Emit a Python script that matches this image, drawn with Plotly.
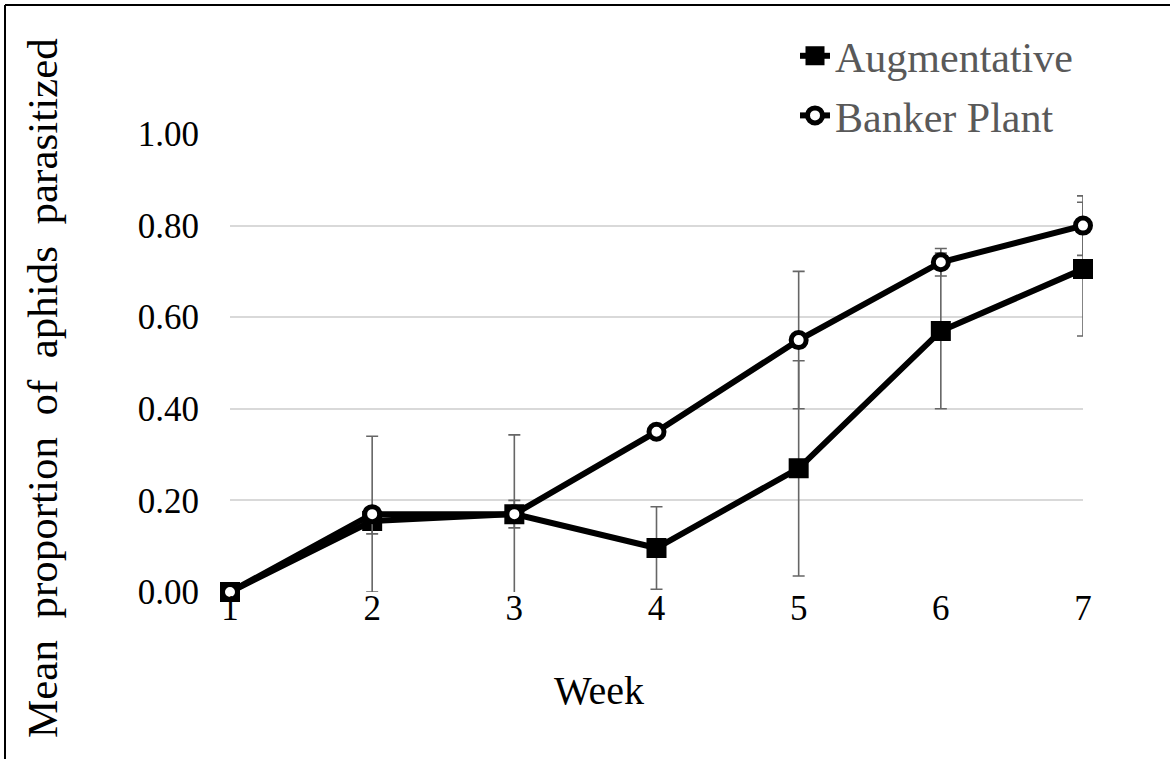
import plotly.graph_objects as go

# Weekly parasitism data
weeks = [1, 2, 3, 4, 5, 6, 7]
augmentative_mean = [0.0, 0.155, 0.17, 0.096, 0.27, 0.57, 0.705]
augmentative_err = [0.0, 0.028, 0.03, 0.09, 0.235, 0.17, 0.146]
banker_mean = [0.0, 0.17, 0.17, 0.35, 0.55, 0.72, 0.80]
banker_err = [0.0, 0.17, 0.173, 0.01, 0.15, 0.03, 0.065]
y_ticks = [0.0, 0.2, 0.4, 0.6, 0.8, 1.0]

FONT = "Liberation Serif, Times New Roman, serif"
ERR_COLOR = "#666666"

# plot-area geometry in pixels
W, H = 1172, 759
L, R, T, B = 230, 89, 134, 167
PW, PH = W - L - R, H - T - B


def px_x(p):
    return (p - L) / PW


def px_y(p):
    return (H - B - p) / PH


fig = go.Figure()

fig.add_trace(go.Scatter(
    x=weeks, y=augmentative_mean, name="Augmentative",
    mode="lines+markers", legendgroup="a",
    line=dict(color="black", width=6),
    marker=dict(symbol="square", size=17, color="black",
                line=dict(color="black", width=3)),
    error_y=dict(type="data", array=augmentative_err, visible=True,
                 color=ERR_COLOR, thickness=1.6, width=6),
    cliponaxis=False,
))

fig.add_trace(go.Scatter(
    x=weeks, y=banker_mean, name="Banker Plant",
    mode="lines+markers", legendgroup="b",
    line=dict(color="black", width=6),
    marker=dict(symbol="circle", size=15, color="white",
                line=dict(color="black", width=5)),
    error_y=dict(type="data", array=banker_err, visible=True,
                 color=ERR_COLOR, thickness=1.6, width=6),
    cliponaxis=False,
))

fig.update_layout(
    width=W, height=H,
    margin=dict(l=L, r=R, t=T, b=B),
    paper_bgcolor="white", plot_bgcolor="white",
    font=dict(family=FONT, color="black", size=35),
    showlegend=True,
    legend=dict(
        x=px_x(795), y=px_y(22), xanchor="left", yanchor="top",
        font=dict(family=FONT, size=42, color="#595959"),
        bgcolor="rgba(0,0,0,0)", tracegroupgap=2,
        itemwidth=30,
    ),
    xaxis=dict(
        range=[1, 7], tickvals=weeks, ticktext=[str(w) for w in weeks],
        showgrid=False, zeroline=False, showline=False,
        tickfont=dict(family=FONT, size=35, color="black"),
        ticks="", ticklabelstandoff=-8,
    ),
    yaxis=dict(
        range=[0, 1.0], tickvals=y_ticks,
        ticktext=[f"{v:.2f}" for v in y_ticks],
        showgrid=True, gridcolor="#d9d9d9", gridwidth=1.5,
        zeroline=False, showline=False,
        tickfont=dict(family=FONT, size=35, color="black"),
        ticks="", ticklabelstandoff=30,
    ),
    annotations=[
        dict(text="Week", xref="paper", yref="paper",
             x=px_x(599), y=px_y(690), xanchor="center", yanchor="middle",
             showarrow=False, font=dict(family=FONT, size=40, color="black")),
        dict(text="Mean  proportion  of  aphids  parasitized",
             xref="paper", yref="paper",
             x=px_x(42), y=px_y(388), xanchor="center", yanchor="middle",
             textangle=-90, showarrow=False,
             font=dict(family=FONT, size=43, color="black")),
    ],
    shapes=[
        # frame edges around the chart area
        dict(type="line", xref="paper", yref="paper",
             x0=px_x(5), x1=px_x(1170), y0=px_y(5), y1=px_y(5),
             line=dict(color="black", width=2)),
        dict(type="line", xref="paper", yref="paper",
             x0=px_x(5), x1=px_x(5), y0=px_y(5), y1=px_y(759),
             line=dict(color="black", width=2)),
    ],
)

fig.write_html("out.html")
